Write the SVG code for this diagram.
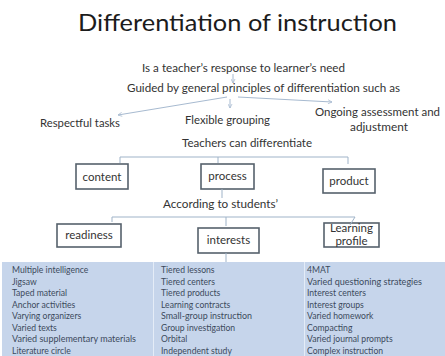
<svg xmlns="http://www.w3.org/2000/svg" width="445" height="356" viewBox="0 0 445 356">
<defs>
<style>
text{font-family:Lato,"Open Sans","Liberation Sans",sans-serif;fill:#333;}
.title{font-size:24px;fill:#1c1c1c;}
.t{font-size:11px;}
.bx{fill:#fff;stroke:#56616c;stroke-width:1.6;}
.bt{font-size:11.5px;text-anchor:middle;fill:#333;}
.ln{stroke:#9fb3c8;stroke-width:1;fill:none;}
.ar{stroke:#a7bad0;stroke-width:1;fill:none;marker-end:url(#ah);}
.cell{font-size:8.6px;fill:#3c4a5c;}
</style>
<marker id="ah" viewBox="0 0 10 10" refX="9" refY="5" markerWidth="5" markerHeight="5" orient="auto">
<path d="M1,1 L9,5 L1,9" fill="none" stroke="#a7bad0" stroke-width="1.5"/>
</marker>
</defs>
<rect width="445" height="356" fill="#fff"/>
<g id="title"><text class="title" x="78" y="31" textLength="319" lengthAdjust="spacingAndGlyphs">Differentiation of instruction</text></g>
<g id="response"><text class="t" x="142" y="72" textLength="203" lengthAdjust="spacingAndGlyphs">Is a teacher’s response to learner’s need</text></g>
<g id="guided"><text class="t" x="127" y="92" textLength="273" lengthAdjust="spacingAndGlyphs">Guided by general principles of differentiation such as</text></g>
<g id="respectful"><text class="t" x="40" y="127" textLength="80" lengthAdjust="spacingAndGlyphs">Respectful tasks</text></g>
<g id="flexible"><text class="t" x="185" y="124" textLength="85" lengthAdjust="spacingAndGlyphs">Flexible grouping</text></g>
<g id="ongoing"><text class="t" x="315" y="116" textLength="125" lengthAdjust="spacingAndGlyphs">Ongoing assessment and</text><text class="t" x="350" y="131" textLength="58" lengthAdjust="spacingAndGlyphs">adjustment</text></g>
<g id="teachers"><text class="t" x="182" y="147" textLength="130" lengthAdjust="spacingAndGlyphs">Teachers can differentiate</text></g>
<g id="content"><rect class="bx" x="76" y="164" width="52" height="25"/><text class="bt" x="102" y="181">content</text></g>
<g id="process"><rect class="bx" x="201" y="164" width="53" height="25"/><text class="bt" x="227.5" y="180">process</text></g>
<g id="product"><rect class="bx" x="323" y="169" width="52" height="24"/><text class="bt" x="349" y="185">product</text></g>
<g id="according"><text class="t" x="163" y="208" textLength="115" lengthAdjust="spacingAndGlyphs">According to students’</text></g>
<g id="readiness"><rect class="bx" x="57" y="224" width="64" height="23"/><text class="bt" x="89" y="239">readiness</text></g>
<g id="interests"><rect class="bx" x="198" y="228" width="61" height="25"/><text class="bt" x="228.5" y="244">interests</text></g>
<g id="learning-profile"><rect class="bx" x="324" y="223" width="55" height="24"/><text class="bt" x="351.5" y="232">Learning</text><text class="bt" x="351.5" y="245">profile</text></g>
<g id="connectors">
<line class="ar" x1="233" y1="74" x2="233" y2="83"/>
<line class="ar" x1="227" y1="97" x2="118" y2="115"/>
<line class="ar" x1="230" y1="99" x2="230" y2="108"/>
<line class="ar" x1="238" y1="97" x2="332" y2="102"/>
<polyline class="ln" points="120,163 120,157 348,157 348,164"/>
<line class="ln" x1="218" y1="157" x2="218" y2="163"/>
<line class="ln" x1="222" y1="189" x2="222" y2="198"/>
<polyline class="ln" points="112,222 112,217 355,217 350,225"/>
<line class="ln" x1="226" y1="217" x2="226" y2="226"/>
<line class="ln" x1="226" y1="253" x2="226" y2="268"/>
</g>
<g id="table">
<rect x="2" y="262" width="443" height="94" fill="#c6d5eb"/>
<line x1="153.5" y1="262" x2="153.5" y2="356" stroke="#e4ecf7" stroke-width="1"/>
<line x1="304.5" y1="262" x2="304.5" y2="356" stroke="#e4ecf7" stroke-width="1"/>
<g class="col1">
<text class="cell" x="12" y="273">Multiple intelligence</text>
<text class="cell" x="12" y="284.5">Jigsaw</text>
<text class="cell" x="12" y="296">Taped material</text>
<text class="cell" x="12" y="307.5">Anchor activities</text>
<text class="cell" x="12" y="319">Varying organizers</text>
<text class="cell" x="12" y="330.5">Varied texts</text>
<text class="cell" x="12" y="342" textLength="124" lengthAdjust="spacingAndGlyphs">Varied supplementary materials</text>
<text class="cell" x="12" y="353.5">Literature circle</text>
</g>
<g class="col2">
<text class="cell" x="161" y="273">Tiered lessons</text>
<text class="cell" x="161" y="284.5">Tiered centers</text>
<text class="cell" x="161" y="296">Tiered products</text>
<text class="cell" x="161" y="307.5">Learning contracts</text>
<text class="cell" x="161" y="319" textLength="91" lengthAdjust="spacingAndGlyphs">Small-group instruction</text>
<text class="cell" x="161" y="330.5">Group investigation</text>
<text class="cell" x="161" y="342">Orbital</text>
<text class="cell" x="161" y="353.5">Independent study</text>
</g>
<g class="col3">
<text class="cell" x="307" y="273">4MAT</text>
<text class="cell" x="307" y="284.5" textLength="115" lengthAdjust="spacingAndGlyphs">Varied questioning strategies</text>
<text class="cell" x="307" y="296">Interest centers</text>
<text class="cell" x="307" y="307.5">Interest groups</text>
<text class="cell" x="307" y="319">Varied homework</text>
<text class="cell" x="307" y="330.5">Compacting</text>
<text class="cell" x="307" y="342">Varied journal prompts</text>
<text class="cell" x="307" y="353.5">Complex instruction</text>
</g>
</g>
</svg>
